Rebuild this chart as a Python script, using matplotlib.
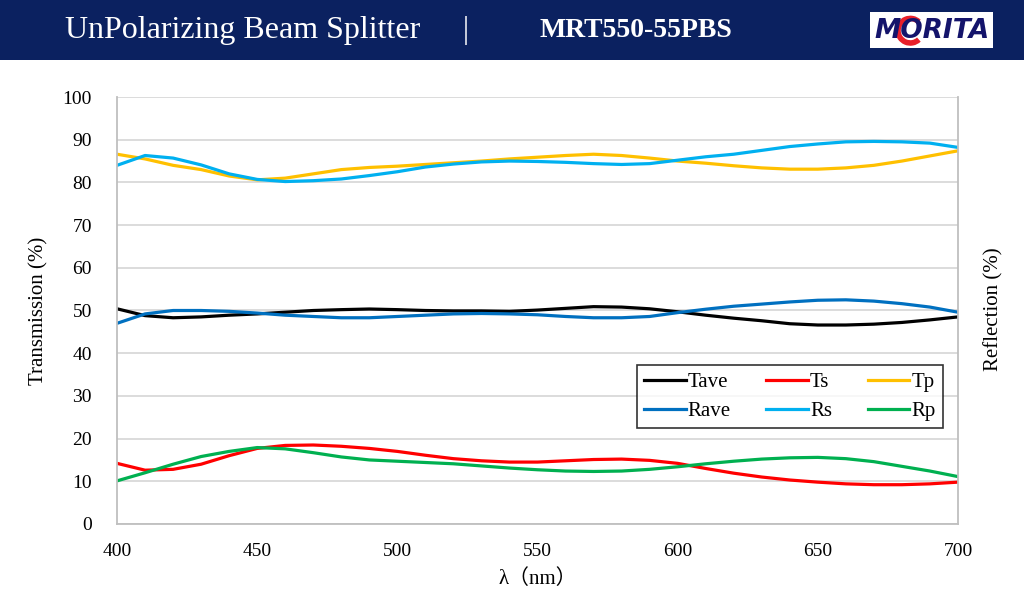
import numpy as np
import matplotlib.pyplot as plt
from matplotlib.patches import Rectangle, Arc

plt.rcParams['font.family'] = ['Liberation Serif', 'Noto Sans CJK JP', 'DejaVu Sans']

# wavelength (nm)
wl = [400, 410, 420, 430, 440, 450, 460, 470, 480, 490, 500,
      510, 520, 530, 540, 550, 560, 570, 580, 590, 600,
      610, 620, 630, 640, 650, 660, 670, 680, 690, 700]

Tave = [50.4, 48.8, 48.3, 48.5, 48.9, 49.2, 49.6, 50.0, 50.2, 50.35, 50.2,
        50.0, 49.9, 49.9, 49.8, 50.1, 50.5, 50.9, 50.8, 50.4, 49.7,
        48.9, 48.2, 47.6, 46.9, 46.6, 46.6, 46.8, 47.2, 47.8, 48.5]
Ts = [14.2, 12.6, 12.8, 14.0, 16.0, 17.7, 18.4, 18.5, 18.2, 17.7, 17.0,
      16.1, 15.3, 14.8, 14.5, 14.5, 14.8, 15.1, 15.2, 14.9, 14.2,
      13.0, 11.9, 11.0, 10.3, 9.8, 9.4, 9.2, 9.2, 9.4, 9.8]
Tp = [86.6, 85.5, 84.0, 83.0, 81.5, 80.6, 81.0, 82.0, 83.0, 83.5, 83.8,
      84.2, 84.6, 85.0, 85.5, 85.9, 86.3, 86.6, 86.3, 85.7, 85.0,
      84.5, 83.9, 83.4, 83.1, 83.1, 83.4, 84.0, 85.0, 86.2, 87.4]
Rave = [47.0, 49.2, 50.0, 50.0, 49.8, 49.4, 48.9, 48.6, 48.3, 48.3, 48.6,
        48.9, 49.2, 49.3, 49.2, 49.0, 48.6, 48.3, 48.3, 48.6, 49.5,
        50.3, 51.0, 51.5, 52.0, 52.4, 52.5, 52.2, 51.6, 50.8, 49.6]
Rs = [84.0, 86.3, 85.7, 84.1, 82.0, 80.7, 80.2, 80.4, 80.8, 81.6, 82.5,
      83.6, 84.3, 84.8, 85.0, 84.9, 84.7, 84.4, 84.2, 84.4, 85.2,
      86.0, 86.6, 87.5, 88.4, 89.0, 89.5, 89.6, 89.5, 89.2, 88.2]
Rp = [10.1, 12.0, 14.0, 15.8, 17.0, 17.9, 17.6, 16.7, 15.7, 15.0, 14.7,
      14.4, 14.1, 13.6, 13.1, 12.7, 12.4, 12.3, 12.4, 12.8, 13.4,
      14.1, 14.7, 15.2, 15.5, 15.6, 15.3, 14.6, 13.5, 12.4, 11.1]

fig = plt.figure(figsize=(10.24, 6.14), dpi=100)

# header banner
navy = '#0b2160'
fig.patches.append(Rectangle((0, 0.902), 1, 0.098, transform=fig.transFigure,
                             facecolor=navy, edgecolor='none', zorder=0))
fig.text(0.063, 0.951, 'UnPolarizing Beam Splitter', color='white', fontsize=23,
         va='center', ha='left')
fig.text(0.455, 0.951, '|', color='white', fontsize=22, va='center', ha='center')
fig.text(0.527, 0.951, 'MRT550-55PBS', color='white', fontsize=20, fontweight='bold',
         va='center', ha='left')

# logo
fig.patches.append(Rectangle((0.850, 0.922), 0.120, 0.059, transform=fig.transFigure,
                             facecolor='white', edgecolor='none', zorder=1))
fig.patches.append(Arc((0.889, 0.950), 0.024, 0.040, theta1=60, theta2=300,
                       transform=fig.transFigure, color='#e8202a', lw=4, zorder=2))
fig.text(0.910, 0.950, 'MORITA', color='#14146b', fontsize=19, fontweight='bold',
         fontstyle='italic', va='center', ha='center', family='DejaVu Sans', zorder=3)

ax = fig.add_axes([0.1143, 0.1466, 0.8212, 0.6954])

ax.plot(wl, Tave, color='black', lw=2.3, label='Tave')
ax.plot(wl, Ts, color='#ff0000', lw=2.3, label='Ts')
ax.plot(wl, Tp, color='#ffc000', lw=2.3, label='Tp')
ax.plot(wl, Rave, color='#0070c0', lw=2.3, label='Rave')
ax.plot(wl, Rs, color='#00b0f0', lw=2.3, label='Rs')
ax.plot(wl, Rp, color='#00b050', lw=2.3, label='Rp')

ax.set_xlim(400, 700)
ax.set_ylim(0, 100)
ax.set_xticks(np.arange(400, 701, 50))
ax.set_yticks(np.arange(0, 101, 10))
ax.grid(axis='y', color='#d9d9d9', lw=1.3)
ax.set_axisbelow(True)
ax.tick_params(length=0, labelsize=14)
ax.tick_params(axis='y', pad=18)
ax.tick_params(axis='x', pad=14)
for s in ['left', 'bottom', 'right']:
    ax.spines[s].set_color('#bfbfbf')
    ax.spines[s].set_linewidth(1.3)
ax.spines['top'].set_visible(False)

ax.set_xlabel('λ（nm）', fontsize=15, labelpad=6)
ax.set_ylabel('Transmission (%)', fontsize=15, labelpad=10)
fig.text(0.970, 0.496, 'Reflection (%)', rotation=90, fontsize=15, va='center', ha='center')

# legend order: rows Tave Ts Tp / Rave Rs Rp
h, l = ax.get_legend_handles_labels()
order = [0, 3, 1, 4, 2, 5]
leg = ax.legend([h[i] for i in order], [l[i] for i in order], ncol=3,
                loc='upper left', bbox_to_anchor=(0.618, 0.232, 0.364, 0.14),
                mode='expand', borderaxespad=0,
                fontsize=15, frameon=True, fancybox=False, edgecolor='black',
                handlelength=2.0, handletextpad=0.1, columnspacing=1.2,
                borderpad=0.35, labelspacing=0.45)
leg.get_frame().set_linewidth(1.2)

plt.savefig('out.png', dpi=100)
